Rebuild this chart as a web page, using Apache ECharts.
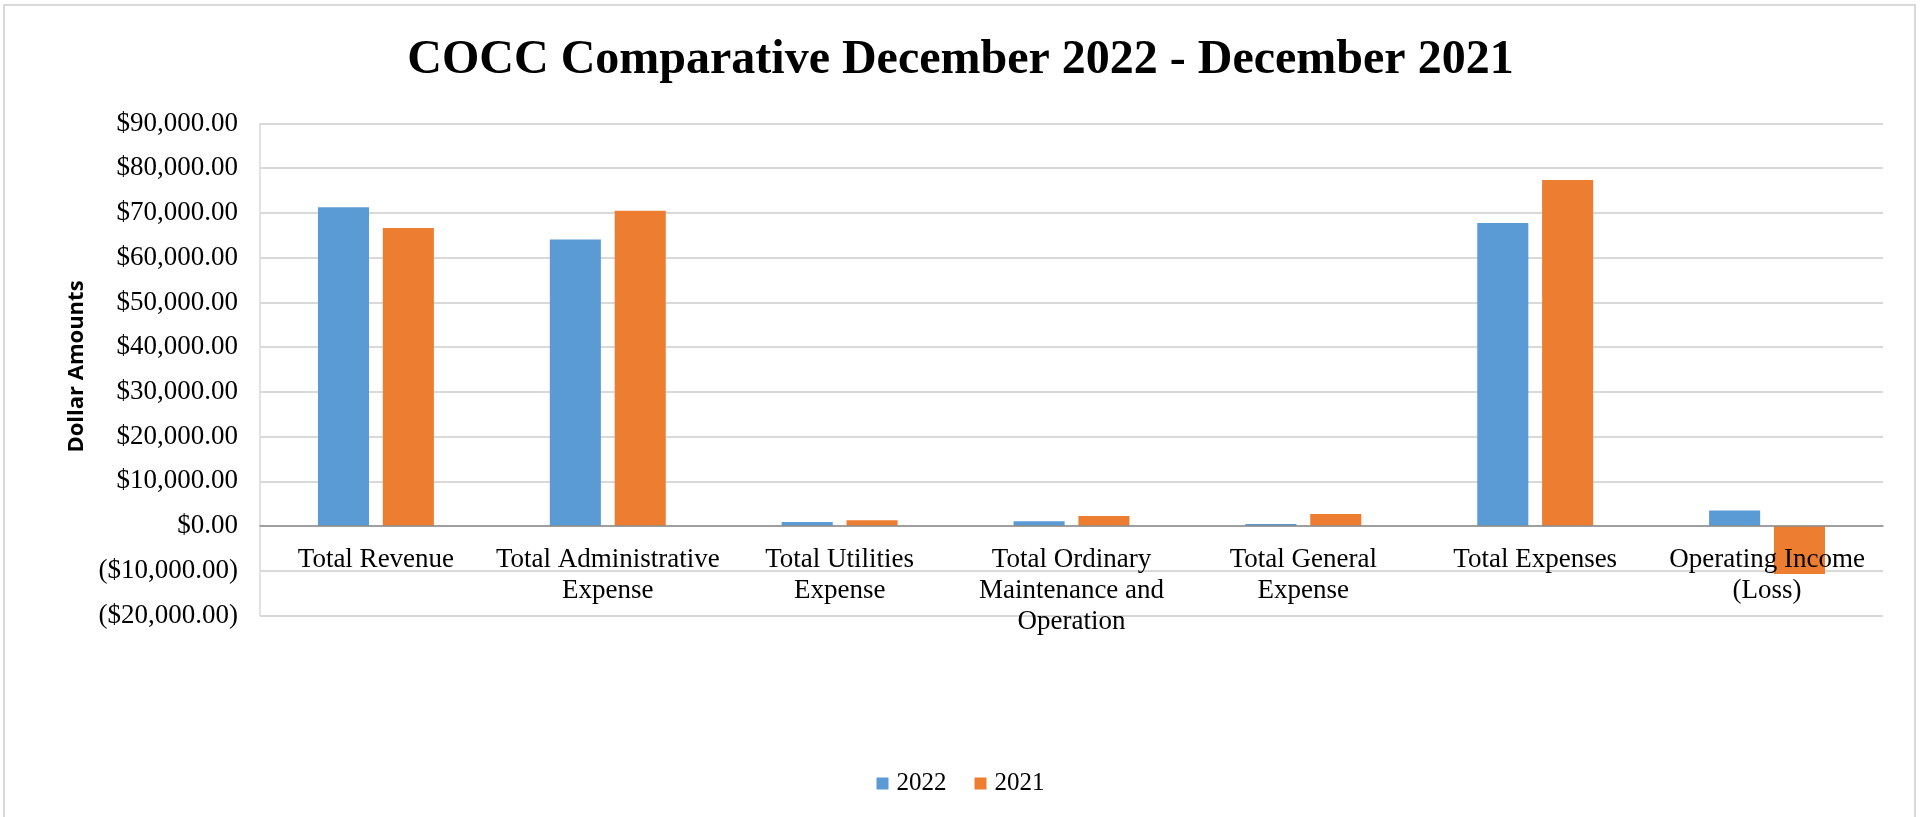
<!DOCTYPE html>
<html>
<head>
<meta charset="utf-8">
<script src="https://cdn.jsdelivr.net/npm/echarts@6/dist/echarts.min.js"></script>
<style>
  html, body { margin: 0; padding: 0; background: #ffffff; }
  #chart { width: 1921px; height: 817px; }
</style>
</head>
<body>
<div id="chart"></div>
<script>
// Line items compared (multi-line labels as shown on the axis)
const categories = [
  'Total Revenue',
  'Total Administrative\nExpense',
  'Total Utilities\nExpense',
  'Total Ordinary\nMaintenance and\nOperation',
  'Total General\nExpense',
  'Total Expenses',
  'Operating Income\n(Loss)'
];

// December 2022 amounts
const values2022 = [71270, 64080, 910, 1060, 450, 67750, 3480];

// December 2021 amounts
const values2021 = [66630, 70520, 1290, 2250, 2720, 77380, -10740];

const seriesNames = ['2022', '2021'];

// Value-axis range and step
const yMin = -20000;
const yMax = 90000;
const yStep = 10000;

function money(v) {
  const s = '$' + Math.abs(v).toLocaleString('en-US', { minimumFractionDigits: 2, maximumFractionDigits: 2 });
  return v < 0 ? '(' + s + ')' : s;
}

const serif = '"Liberation Serif", "Times New Roman", serif';

// Plot box (pixels)
const gridTop = 123.5;
const gridBottom = 201.5;
const chartHeight = 817;

const chart = echarts.init(document.getElementById('chart'), null, { renderer: 'canvas' });

// Category axis sits on the zero line: shift it up from the plot bottom
const plotHeight = chartHeight - gridTop - gridBottom;
const zeroShift = plotHeight * (0 - yMin) / (yMax - yMin);

chart.setOption({
  backgroundColor: '#ffffff',
  animation: false,
  title: {
    text: 'COCC Comparative December 2022 - December 2021',
    left: 'center',
    top: 32,
    textStyle: {
      fontFamily: serif,
      fontWeight: 'bold',
      fontSize: 48,
      color: '#000000'
    }
  },
  graphic: [{
    type: 'rect',
    z: -1,
    shape: { x: 4, y: 5, width: 1911, height: 840 },
    style: { fill: 'none', stroke: '#d9d9d9', lineWidth: 2 }
  }],
  legend: {
    data: seriesNames,
    left: 'center',
    top: 766,
    icon: 'rect',
    itemWidth: 12,
    itemHeight: 12,
    itemGap: 28,
    textStyle: { fontFamily: serif, fontSize: 25, color: '#000000', padding: [0, 0, 0, 3] }
  },
  grid: {
    left: 260,
    right: 38,
    top: gridTop,
    bottom: gridBottom,
    containLabel: false
  },
  xAxis: {
    type: 'category',
    data: categories,
    z: 5,
    offset: -zeroShift,
    axisLine: { onZero: false, lineStyle: { color: '#8c8c8c', width: 1.5 } },
    axisTick: { show: false },
    axisLabel: {
      interval: 0,
      margin: 18,
      fontFamily: serif,
      fontSize: 27,
      lineHeight: 31,
      color: '#000000'
    }
  },
  yAxis: {
    type: 'value',
    min: yMin,
    max: yMax,
    interval: yStep,
    name: 'Dollar Amounts',
    nameLocation: 'middle',
    nameGap: 170,
    nameTextStyle: {
      fontFamily: '"Open Sans", "Noto Sans", sans-serif',
      fontWeight: 'bold',
      fontSize: 22,
      color: '#000000',
      padding: [0, 0, 0, 6]
    },
    axisLine: { show: true, lineStyle: { color: '#d9d9d9', width: 1.5 } },
    axisTick: { show: false },
    splitLine: { lineStyle: { color: '#d9d9d9', width: 2 } },
    axisLabel: {
      margin: 22,
      fontFamily: serif,
      fontSize: 27,
      color: '#000000',
      formatter: money
    }
  },
  series: [
    {
      name: seriesNames[0],
      type: 'bar',
      data: values2022,
      barCategoryGap: '50%',
      barGap: '27%',
      itemStyle: { color: '#5b9bd5' }
    },
    {
      name: seriesNames[1],
      type: 'bar',
      data: values2021,
      barCategoryGap: '50%',
      barGap: '27%',
      itemStyle: { color: '#ed7d31' }
    }
  ]
});
</script>
</body>
</html>
